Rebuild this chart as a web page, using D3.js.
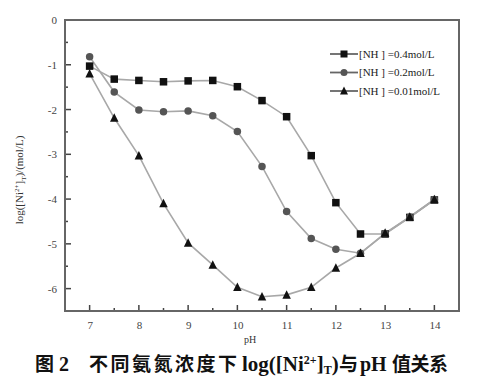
<!DOCTYPE html>
<html><head><meta charset="utf-8">
<script src="https://cdn.jsdelivr.net/npm/d3@7"></script>
<style>body{margin:0;background:#fff}svg{display:block}</style>
</head><body>
<svg id="c" width="499" height="383"></svg>
<script>
const pH = [7,7.5,8,8.5,9,9.5,10,10.5,11,11.5,12,12.5,13,13.5,14];
const s04 = [-1.03,-1.32,-1.35,-1.38,-1.36,-1.35,-1.49,-1.80,-2.16,-3.03,-4.08,-4.78,-4.78,-4.41,-4.02];
const s02 = [-0.82,-1.61,-2.01,-2.05,-2.03,-2.14,-2.49,-3.27,-4.28,-4.88,-5.12,-5.21,-4.77,-4.40,-4.01];
const s001 = [-1.20,-2.19,-3.03,-4.10,-4.98,-5.47,-5.97,-6.18,-6.14,-5.97,-5.54,-5.21,-4.76,-4.40,-4.01];
const legendLabels = ["[NH ] =0.4mol/L","[NH ] =0.2mol/L","[NH ] =0.01mol/L"];
const xTicks = [7,8,9,10,11,12,13,14];
const yTicks = [0,-1,-2,-3,-4,-5,-6];

const svg = d3.select("#c");
const L=65,R=459,T=20,B=311;
const x = d3.scaleLinear().domain([6.5,14.5]).range([L,R]);
const y = d3.scaleLinear().domain([-6.5,0]).range([B,T]);
const serif = "'Liberation Serif','Times New Roman',serif";
const cjk = "'Noto Sans CJK SC',sans-serif";

const series = [
  {v:s04, shape:"square", fill:"#111"},
  {v:s02, shape:"circle", fill:"#555"},
  {v:s001, shape:"triangle", fill:"#111"}
];
const line = d3.line().x(d=>x(d[0])).y(d=>y(d[1]));
series.forEach(s=>{
  svg.append("path").datum(pH.map((p,i)=>[p,s.v[i]]))
    .attr("d",line).attr("fill","none").attr("stroke","#a8a8a8").attr("stroke-width",1.6);
});
function marker(g,shape,cx,cy,fill,sz){
  if(shape==="square") g.append("rect").attr("x",cx-sz/2).attr("y",cy-sz/2).attr("width",sz).attr("height",sz).attr("fill",fill);
  else if(shape==="circle") g.append("circle").attr("cx",cx).attr("cy",cy).attr("r",sz/2).attr("fill",fill);
  else g.append("path").attr("d",`M${cx},${cy-sz/2-1}L${cx+sz/2+0.5},${cy+sz/2}L${cx-sz/2-0.5},${cy+sz/2}Z`).attr("fill",fill);
}
series.forEach(s=>{
  const g=svg.append("g");
  pH.forEach((p,i)=>marker(g,s.shape,x(p),y(s.v[i]),s.fill,7.5));
});

const xa = d3.axisBottom(x).tickValues(xTicks).tickSize(0).tickPadding(8).tickFormat(d3.format("d"));
const ya = d3.axisLeft(y).tickValues(yTicks).tickSize(0).tickPadding(8).tickFormat(d=>d===0?"0":"-"+Math.abs(d));
const gx = svg.append("g").attr("transform",`translate(0,${B})`).call(xa);
const gy = svg.append("g").attr("transform",`translate(${L},0)`).call(ya);
[gx,gy].forEach(g=>{g.select(".domain").remove();g.selectAll("text").attr("font-family",serif).attr("font-size",11).attr("fill","#444");});
gx.selectAll("text").attr("dy","0.9em");
d3.range(7,14.01,0.5).forEach(v=>{
  const major=Number.isInteger(v);
  svg.append("line").attr("x1",x(v)).attr("x2",x(v)).attr("y1",B).attr("y2",B-(major?6:3)).attr("stroke","#444").attr("stroke-width",1.5);
});
d3.range(-6,0.01,0.5).forEach(v=>{
  const major=Number.isInteger(v);
  svg.append("line").attr("x1",L).attr("x2",L+(major?6:3)).attr("y1",y(v)).attr("y2",y(v)).attr("stroke","#444").attr("stroke-width",1.5);
});
svg.append("rect").attr("x",L).attr("y",T).attr("width",R-L).attr("height",B-T)
  .attr("fill","none").attr("stroke","#666").attr("stroke-width",2);

legendLabels.forEach((t,i)=>{
  const ly=54+i*18.5;
  svg.append("line").attr("x1",330).attr("x2",358).attr("y1",ly).attr("y2",ly).attr("stroke","#666").attr("stroke-width",1.8);
  marker(svg,series[i].shape,344,ly,series[i].fill,7);
  svg.append("text").attr("x",359).attr("y",ly).attr("dy","0.35em").attr("font-family",serif).attr("font-size",11).attr("fill","#222").text(t);
});

svg.append("text").attr("x",250).attr("y",343).attr("text-anchor","middle").attr("font-family",serif).attr("font-size",10).attr("fill","#333").text("pH");
const yl = svg.append("text").attr("transform","translate(23,180) rotate(-90)").attr("text-anchor","middle")
  .attr("font-family",serif).attr("font-size",11).attr("fill","#333");
yl.append("tspan").text("log([Ni");
yl.append("tspan").attr("dy",-4).attr("font-size",7).text("2+");
yl.append("tspan").attr("dy",4).text("]");
yl.append("tspan").attr("dy",3).attr("font-size",7).text("T");
yl.append("tspan").attr("dy",-3).text(")/(mol/L)");

const cy0 = 371;
const cap = svg.append("g").attr("font-weight","bold").attr("fill","#111");
function ct(xp,txt,fam,size,dy,len){
  const t=cap.append("text").attr("x",xp).attr("y",cy0+(dy||0)).attr("font-family",fam).attr("font-size",size).text(txt);
  if(len) t.attr("textLength",len).attr("lengthAdjust","spacing");
  return t;
}
ct(35,"图",cjk,19);
ct(59,"2",serif,20);
ct(89,"不同氨氮浓度下",cjk,19,0,148);
const lg = cap.append("text").attr("x",242).attr("y",cy0).attr("font-family",serif).attr("font-size",21);
lg.append("tspan").text("log([Ni");
lg.append("tspan").attr("font-size",12).attr("dy",-7).text("2+");
lg.append("tspan").attr("dy",7).text("]");
lg.append("tspan").attr("font-size",12).attr("dy",3).text("T");
lg.append("tspan").attr("dy",-3).text(")");
ct(339,"与",cjk,19);
ct(360,"pH",serif,20);
ct(392,"值关系",cjk,19,0,56);
</script>
</body></html>
